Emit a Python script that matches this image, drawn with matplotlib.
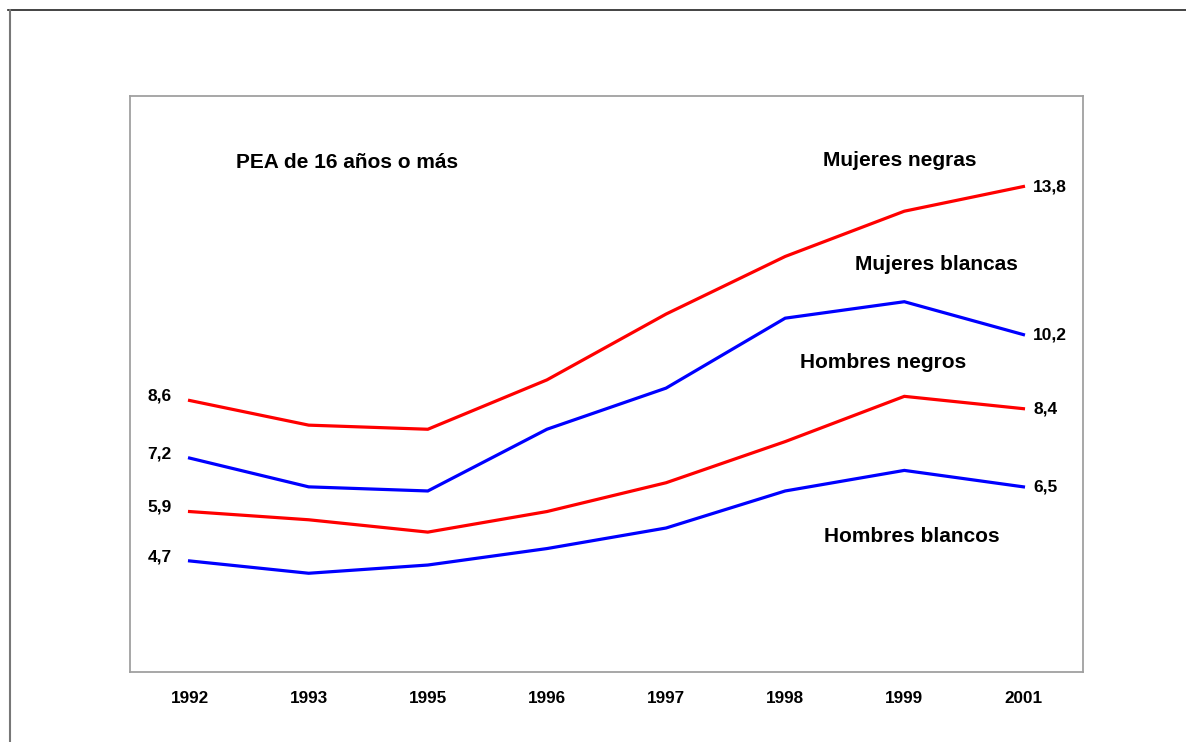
import matplotlib
matplotlib.use("Agg")
import matplotlib.pyplot as plt
from matplotlib.lines import Line2D

years = ["1992", "1993", "1995", "1996", "1997", "1998", "1999", "2001"]
mujeres_negras = [8.6, 8.0, 7.9, 9.1, 10.7, 12.1, 13.2, 13.8]
mujeres_blancas = [7.2, 6.5, 6.4, 7.9, 8.9, 10.6, 11.0, 10.2]
hombres_negros = [5.9, 5.7, 5.4, 5.9, 6.6, 7.6, 8.7, 8.4]
hombres_blancos = [4.7, 4.4, 4.6, 5.0, 5.5, 6.4, 6.9, 6.5]

series = [
    ("Mujeres negras", mujeres_negras, "#ff0000"),
    ("Mujeres blancas", mujeres_blancas, "#0000ff"),
    ("Hombres negros", hombres_negros, "#ff0000"),
    ("Hombres blancos", hombres_blancos, "#0000ff"),
]

plt.rcParams['font.family'] = ['Liberation Sans', 'DejaVu Sans']
W, H = 1186, 742
fig = plt.figure(figsize=(W / 100, H / 100), dpi=100)

# outer frame (top and left only visible)
fig.add_artist(Line2D([8 / W, 1.0], [1 - 10 / H, 1 - 10 / H], color="#222222", lw=1.2,
                      transform=fig.transFigure))
fig.add_artist(Line2D([9.5 / W, 9.5 / W], [0, 1 - 10 / H], color="#777777", lw=1.5,
                      transform=fig.transFigure))

ax = fig.add_axes([130 / W, 1 - 672 / H, 953 / W, 576 / H])
x = list(range(len(years)))
for name, vals, col in series:
    ax.plot(x, vals, color=col, lw=2.3, solid_joinstyle='miter')
    ax.annotate(f"{vals[0]:.1f}".replace(".", ","), (x[0], vals[0]),
                xytext=(-13, 3), textcoords="offset points", ha="right", va="center",
                fontsize=12.5, fontweight="bold")
    ax.annotate(f"{vals[-1]:.1f}".replace(".", ","), (x[-1], vals[-1]),
                xytext=(7, 0), textcoords="offset points", ha="left", va="center",
                fontsize=12.5, fontweight="bold")

ax.set_xlim(-0.5, len(years) - 0.5)
ax.set_ylim(2, 16)
ax.set_xticks(x)
ax.set_xticklabels(years, fontsize=12.3, fontweight="bold")
ax.set_yticks([])
ax.tick_params(axis="x", length=0, pad=14)
for s in ax.spines.values():
    s.set_color("#a0a0a0")
    s.set_linewidth(1.3)

def ax_text(px, py, s, ha="left"):
    ax.text((px - 130) / 953, (672 - py) / 576, s, transform=ax.transAxes,
            ha=ha, va="center", fontsize=15, fontweight="bold")

ax_text(236, 162, "PEA de 16 años o más")
ax_text(823, 161, "Mujeres negras")
ax_text(855, 264, "Mujeres blancas")
ax_text(800, 363, "Hombres negros")
ax_text(824, 537, "Hombres blancos")

fig.savefig("out.png", dpi=100)
